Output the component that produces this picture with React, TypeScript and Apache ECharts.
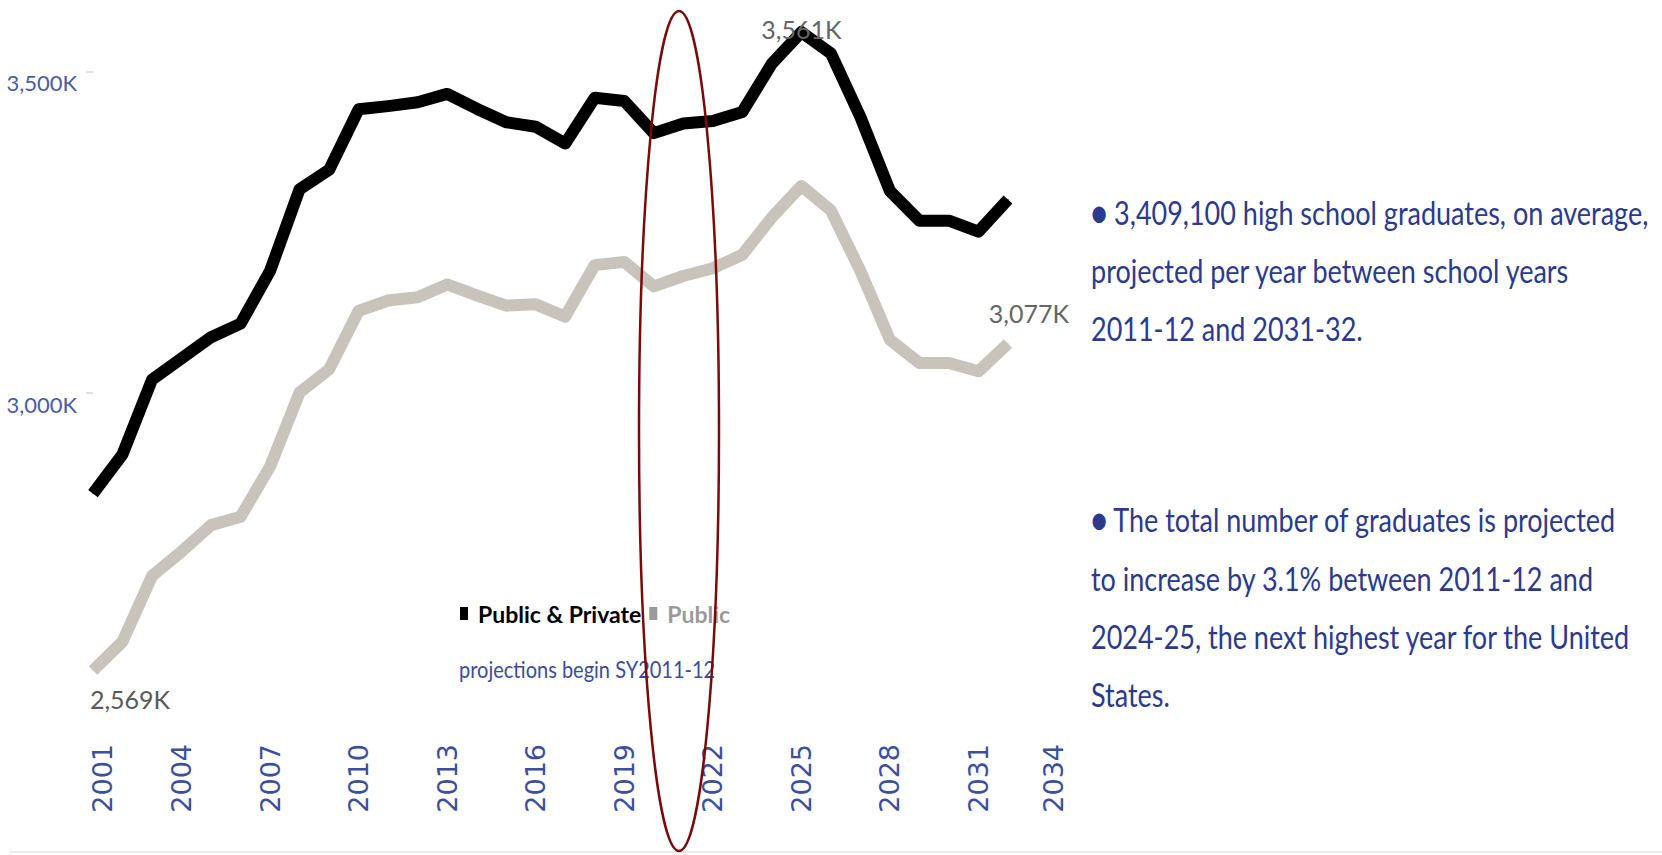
import React, { useEffect, useRef } from "react";
import * as echarts from "echarts";

const years = [
  "2001", "2002", "2003", "2004", "2005", "2006", "2007", "2008", "2009", "2010",
  "2011", "2012", "2013", "2014", "2015", "2016", "2017", "2018", "2019", "2020",
  "2021", "2022", "2023", "2024", "2025", "2026", "2027", "2028", "2029", "2030",
  "2031", "2032", "2033", "2034",
];

// thousands of graduates
const publicPrivate = [
  2844, 2905, 3021, 3054, 3087, 3108, 3190, 3317, 3347, 3441,
  3446, 3452, 3465, 3442, 3421, 3414, 3388, 3459, 3454, 3404,
  3419, 3423, 3437, 3512, 3561, 3528, 3429, 3314, 3268, 3268,
  3251, 3301,
];

const publicOnly = [
  2569, 2614, 2716, 2754, 2795, 2808, 2886, 3001, 3037, 3128,
  3144, 3149, 3169, 3152, 3136, 3138, 3119, 3199, 3204, 3166,
  3182, 3194, 3215, 3273, 3322, 3284, 3190, 3083, 3047, 3047,
  3034, 3077,
];

const yTickValues = [3000, 3500];

const seriesNames = ["Public & Private", "Public"];

const noteLines1 = [
  "\u25CF 3,409,100 high school graduates, on average,",
  "projected per year between school years",
  "2011-12 and 2031-32.",
];
const noteLines2 = [
  "\u25CF The total number of graduates is projected",
  "to increase by 3.1% between 2011-12 and",
  "2024-25, the next highest year for the United",
  "States.",
];

const NARROW = 'Lato, "Liberation Sans", sans-serif';
const fmtK = (v: number) => v.toLocaleString("en-US") + "K";

export default function App() {
  const ref = useRef<HTMLDivElement>(null);

  useEffect(() => {
    document.body.style.margin = "0";
    if (!ref.current) return;
    const chart = echarts.init(ref.current, undefined, { renderer: "svg" });

    const peakIdx = publicPrivate.indexOf(Math.max(...publicPrivate));
    const lastIdx = publicOnly.length - 1;

    const dataLabel = {
      color: "#666666",
      fontFamily: NARROW,
      fontSize: 25,
    };

    const ppData = publicPrivate.map((v, i) =>
      i === peakIdx
        ? {
            value: v,
            label: {
              show: true,
              position: "inside",
              offset: [0, -3],
              formatter: () => fmtK(v),
              ...dataLabel,
            },
          }
        : v
    );
    const pubData = publicOnly.map((v, i) => {
      if (i === 0)
        return {
          value: v,
          label: {
            show: true,
            position: "bottom",
            distance: 15,
            offset: [37, 0],
            formatter: () => fmtK(v),
            ...dataLabel,
            color: "#5a5a5a",
          },
        };
      if (i === lastIdx)
        return {
          value: v,
          label: {
            show: true,
            position: "top",
            distance: 18,
            offset: [21, 0],
            formatter: () => fmtK(v),
            ...dataLabel,
          },
        };
      return v;
    });

    const graphics: any[] = [];
    const noteStyle = (t: string) => ({
      text: t,
      fill: "#2b3a8f",
      font: `27px ${NARROW}`,
      textVerticalAlign: "middle",
    });
    const c1 = [212, 270, 328];
    noteLines1.forEach((t, i) =>
      graphics.push({ type: "text", x: 1091, y: c1[i], scaleY: 1.25, style: noteStyle(t) })
    );
    const c2 = [519, 578, 636, 694];
    noteLines2.forEach((t, i) =>
      graphics.push({ type: "text", x: 1091, y: c2[i], scaleY: 1.25, style: noteStyle(t) })
    );
    graphics.push({
      type: "text",
      x: 459,
      y: 669,
      scaleY: 1.15,
      style: {
        text: "projections begin SY2011-12",
        fill: "#3a4c9e",
        font: `20px ${NARROW}`,
        textVerticalAlign: "middle",
      },
    });
    graphics.push({
      type: "line",
      shape: { x1: 10, y1: 852, x2: 1662, y2: 852 },
      style: { stroke: "#ececec", lineWidth: 2 },
    });
    graphics.push({
      type: "ellipse",
      z: 100,
      shape: { cx: 679, cy: 431, rx: 40, ry: 420 },
      style: { fill: "none", stroke: "#7a0a0a", lineWidth: 2.5 },
    });

    const xFont = { color: "#3b4ea0", fontFamily: '"DejaVu Sans", sans-serif', fontSize: 27 };

    chart.setOption({
      animation: false,
      backgroundColor: "#ffffff",
      grid: { left: 93, top: 7, width: 974, height: 708, containLabel: false },
      legend: {
        left: 455,
        top: 597,
        icon: "rect",
        itemWidth: 8,
        itemHeight: 13,
        itemGap: 8,
        textStyle: {
          fontFamily: NARROW,
          fontSize: 23,
          fontWeight: "bold",
          padding: [0, 0, 0, 5],
        },
        data: [
          { name: seriesNames[0], itemStyle: { color: "#000000" }, textStyle: { color: "#000000" } },
          { name: seriesNames[1], itemStyle: { color: "#9a9a9a" }, textStyle: { color: "#9a9a9a" } },
        ],
      },
      xAxis: {
        type: "category",
        boundaryGap: false,
        data: years,
        axisLine: { show: false },
        axisTick: { show: false },
        splitLine: { show: false },
        axisLabel: {
          interval: 2,
          rotate: 90,
          margin: 29,
          ...xFont,
          formatter: (v: string, i: number) =>
            i === 0 ? `{first|${v}}` : i === years.length - 1 ? `{last|${v}}` : v,
          rich: {
            first: { ...xFont, padding: [18, 0, 0, 0] },
            last: { ...xFont, padding: [0, 0, 28, 0] },
          },
        },
      },
      yAxis: {
        type: "value",
        min: 2500,
        max: 3600,
        axisLine: { show: false },
        splitLine: { show: false },
        axisTick: {
          show: true,
          length: 7,
          customValues: yTickValues,
          lineStyle: { color: "#e2e2e2", width: 2 },
        },
        axisLabel: {
          customValues: yTickValues,
          formatter: (v: number) => fmtK(v),
          margin: 16,
          verticalAlign: "top",
          color: "#4a5ba8",
          fontFamily: NARROW,
          fontSize: 22,
        },
      },
      series: [
        {
          name: seriesNames[0],
          type: "line",
          data: ppData,
          symbol: "circle",
          symbolSize: 1,
          showSymbol: true,
          itemStyle: { color: "#000000" },
          lineStyle: { color: "#000000", width: 12, join: "round" },
          z: 3,
        },
        {
          name: seriesNames[1],
          type: "line",
          data: pubData,
          symbol: "circle",
          symbolSize: 1,
          showSymbol: true,
          itemStyle: { color: "#c8c4bc" },
          lineStyle: { color: "#c8c4bc", width: 12, join: "round" },
          z: 2,
        },
      ],
      graphic: graphics,
    });

    return () => chart.dispose();
  }, []);

  return <div ref={ref} style={{ width: 1662, height: 855 }} />;
}
